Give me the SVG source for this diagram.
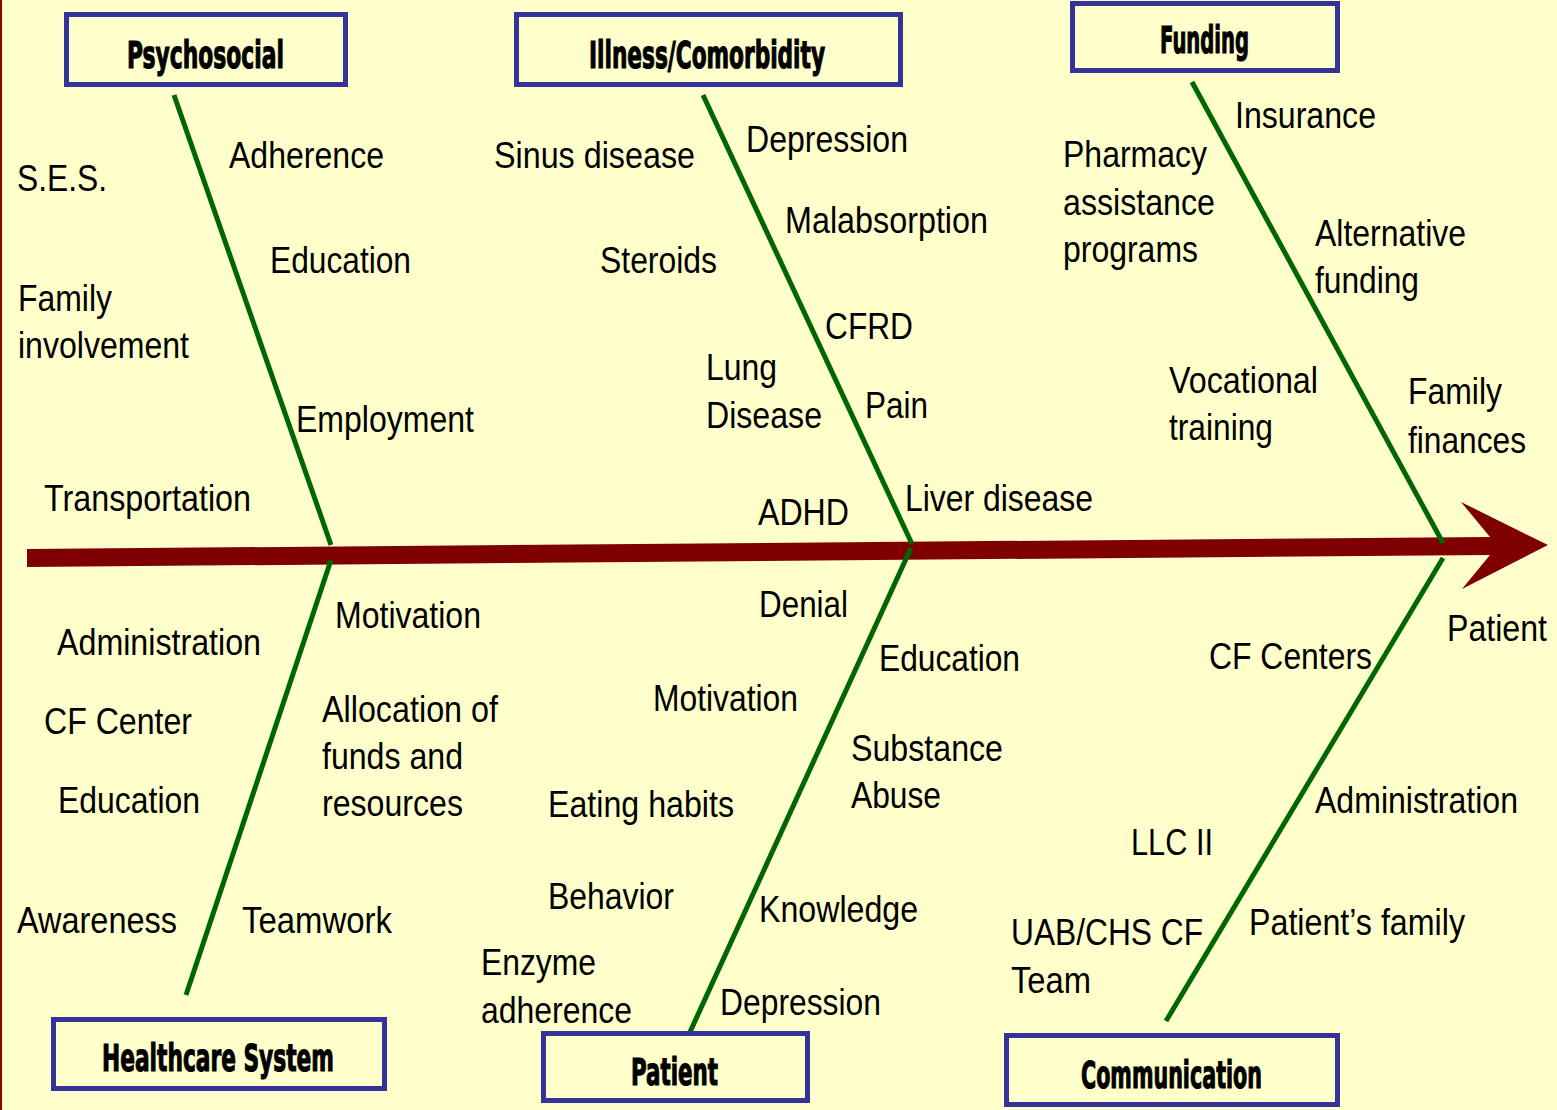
<svg xmlns="http://www.w3.org/2000/svg" width="1557" height="1110" viewBox="0 0 1557 1110">
<style>
.box{fill:#FFFFCC;stroke:#333399;stroke-width:5}
.ttl{font-family:"DejaVu Sans","Liberation Sans",sans-serif;font-weight:bold;font-size:37px;fill:#000;stroke:#000;stroke-width:1.2}
.t{font-family:"Liberation Sans",Arial,sans-serif;font-size:36px;fill:#000}
.bone{stroke:#006600;stroke-width:5;fill:none}
</style>
<rect x="0" y="0" width="1557" height="1110" fill="#FFFFCC"/>
<rect x="0" y="0" width="2" height="1110" fill="#8B0000"/>
<g id="connectors">
<polygon points="27,549 1490,537 1461,502 1548,545 1462,589 1490,555 27,567" fill="#7F0000"/>
<line class="bone" x1="174" y1="95" x2="331" y2="545"/>
<line class="bone" x1="331" y1="560" x2="186" y2="995"/>
<line class="bone" x1="703" y1="95" x2="912" y2="544"/>
<line class="bone" x1="911" y1="548" x2="690" y2="1032"/>
<line class="bone" x1="1192" y1="82" x2="1443" y2="543"/>
<line class="bone" x1="1443" y1="558" x2="1166" y2="1021"/>
</g>
<g id="psychosocial">
<rect class="box" x="66.5" y="14.5" width="279" height="70"/>
<text class="ttl" x="127" y="68" textLength="157" lengthAdjust="spacingAndGlyphs">Psychosocial</text>
</g>
<g id="illness">
<rect class="box" x="516.5" y="14.5" width="384" height="70"/>
<text class="ttl" x="589" y="68" textLength="236" lengthAdjust="spacingAndGlyphs">Illness/Comorbidity</text>
</g>
<g id="funding">
<rect class="box" x="1072.5" y="3.5" width="265" height="67"/>
<text class="ttl" x="1160" y="53" textLength="89" lengthAdjust="spacingAndGlyphs">Funding</text>
</g>
<g id="healthcare">
<rect class="box" x="53.5" y="1019.5" width="331" height="69"/>
<text class="ttl" x="102" y="1071" textLength="232" lengthAdjust="spacingAndGlyphs">Healthcare System</text>
</g>
<g id="patient">
<rect class="box" x="543.5" y="1033.5" width="264" height="67"/>
<text class="ttl" x="631" y="1085" textLength="87" lengthAdjust="spacingAndGlyphs">Patient</text>
</g>
<g id="communication">
<rect class="box" x="1006.5" y="1035.5" width="331" height="69"/>
<text class="ttl" x="1081" y="1088" textLength="181" lengthAdjust="spacingAndGlyphs">Communication</text>
</g>
<g id="labels-psychosocial">
<text class="t" x="17" y="191" textLength="90" lengthAdjust="spacingAndGlyphs">S.E.S.</text>
<text class="t" x="229" y="168" textLength="155" lengthAdjust="spacingAndGlyphs">Adherence</text>
<text class="t" x="270" y="273" textLength="141" lengthAdjust="spacingAndGlyphs">Education</text>
<text class="t" x="18" y="311" textLength="94" lengthAdjust="spacingAndGlyphs">Family</text>
<text class="t" x="18" y="358" textLength="171" lengthAdjust="spacingAndGlyphs">involvement</text>
<text class="t" x="296" y="432" textLength="178" lengthAdjust="spacingAndGlyphs">Employment</text>
<text class="t" x="44" y="511" textLength="207" lengthAdjust="spacingAndGlyphs">Transportation</text>
</g>
<g id="labels-illness">
<text class="t" x="494" y="168" textLength="201" lengthAdjust="spacingAndGlyphs">Sinus disease</text>
<text class="t" x="746" y="152" textLength="162" lengthAdjust="spacingAndGlyphs">Depression</text>
<text class="t" x="785" y="233" textLength="203" lengthAdjust="spacingAndGlyphs">Malabsorption</text>
<text class="t" x="600" y="273" textLength="117" lengthAdjust="spacingAndGlyphs">Steroids</text>
<text class="t" x="825" y="339" textLength="88" lengthAdjust="spacingAndGlyphs">CFRD</text>
<text class="t" x="706" y="380" textLength="71" lengthAdjust="spacingAndGlyphs">Lung</text>
<text class="t" x="706" y="428" textLength="116" lengthAdjust="spacingAndGlyphs">Disease</text>
<text class="t" x="865" y="418" textLength="63" lengthAdjust="spacingAndGlyphs">Pain</text>
<text class="t" x="758" y="525" textLength="91" lengthAdjust="spacingAndGlyphs">ADHD</text>
<text class="t" x="905" y="511" textLength="188" lengthAdjust="spacingAndGlyphs">Liver disease</text>
</g>
<g id="labels-funding">
<text class="t" x="1235" y="128" textLength="141" lengthAdjust="spacingAndGlyphs">Insurance</text>
<text class="t" x="1063" y="167" textLength="144" lengthAdjust="spacingAndGlyphs">Pharmacy</text>
<text class="t" x="1063" y="215" textLength="152" lengthAdjust="spacingAndGlyphs">assistance</text>
<text class="t" x="1063" y="262" textLength="135" lengthAdjust="spacingAndGlyphs">programs</text>
<text class="t" x="1315" y="246" textLength="151" lengthAdjust="spacingAndGlyphs">Alternative</text>
<text class="t" x="1315" y="293" textLength="104" lengthAdjust="spacingAndGlyphs">funding</text>
<text class="t" x="1169" y="393" textLength="149" lengthAdjust="spacingAndGlyphs">Vocational</text>
<text class="t" x="1169" y="440" textLength="104" lengthAdjust="spacingAndGlyphs">training</text>
<text class="t" x="1408" y="404" textLength="94" lengthAdjust="spacingAndGlyphs">Family</text>
<text class="t" x="1408" y="453" textLength="118" lengthAdjust="spacingAndGlyphs">finances</text>
</g>
<g id="labels-healthcare">
<text class="t" x="57" y="655" textLength="204" lengthAdjust="spacingAndGlyphs">Administration</text>
<text class="t" x="335" y="628" textLength="146" lengthAdjust="spacingAndGlyphs">Motivation</text>
<text class="t" x="44" y="734" textLength="148" lengthAdjust="spacingAndGlyphs">CF Center</text>
<text class="t" x="322" y="722" textLength="176" lengthAdjust="spacingAndGlyphs">Allocation of</text>
<text class="t" x="322" y="769" textLength="141" lengthAdjust="spacingAndGlyphs">funds and</text>
<text class="t" x="322" y="816" textLength="141" lengthAdjust="spacingAndGlyphs">resources</text>
<text class="t" x="58" y="813" textLength="142" lengthAdjust="spacingAndGlyphs">Education</text>
<text class="t" x="17" y="933" textLength="160" lengthAdjust="spacingAndGlyphs">Awareness</text>
<text class="t" x="242" y="933" textLength="150" lengthAdjust="spacingAndGlyphs">Teamwork</text>
</g>
<g id="labels-patient">
<text class="t" x="759" y="617" textLength="89" lengthAdjust="spacingAndGlyphs">Denial</text>
<text class="t" x="879" y="671" textLength="141" lengthAdjust="spacingAndGlyphs">Education</text>
<text class="t" x="653" y="711" textLength="145" lengthAdjust="spacingAndGlyphs">Motivation</text>
<text class="t" x="851" y="761" textLength="152" lengthAdjust="spacingAndGlyphs">Substance</text>
<text class="t" x="851" y="808" textLength="90" lengthAdjust="spacingAndGlyphs">Abuse</text>
<text class="t" x="548" y="817" textLength="186" lengthAdjust="spacingAndGlyphs">Eating habits</text>
<text class="t" x="548" y="909" textLength="126" lengthAdjust="spacingAndGlyphs">Behavior</text>
<text class="t" x="759" y="922" textLength="159" lengthAdjust="spacingAndGlyphs">Knowledge</text>
<text class="t" x="481" y="975" textLength="115" lengthAdjust="spacingAndGlyphs">Enzyme</text>
<text class="t" x="481" y="1023" textLength="151" lengthAdjust="spacingAndGlyphs">adherence</text>
<text class="t" x="720" y="1015" textLength="161" lengthAdjust="spacingAndGlyphs">Depression</text>
</g>
<g id="labels-communication">
<text class="t" x="1447" y="641" textLength="100" lengthAdjust="spacingAndGlyphs">Patient</text>
<text class="t" x="1209" y="669" textLength="163" lengthAdjust="spacingAndGlyphs">CF Centers</text>
<text class="t" x="1315" y="813" textLength="203" lengthAdjust="spacingAndGlyphs">Administration</text>
<text class="t" x="1131" y="855" textLength="82" lengthAdjust="spacingAndGlyphs">LLC II</text>
<text class="t" x="1011" y="945" textLength="192" lengthAdjust="spacingAndGlyphs">UAB/CHS CF</text>
<text class="t" x="1011" y="993" textLength="80" lengthAdjust="spacingAndGlyphs">Team</text>
<text class="t" x="1249" y="935" textLength="216" lengthAdjust="spacingAndGlyphs">Patient’s family</text>
</g>
</svg>
